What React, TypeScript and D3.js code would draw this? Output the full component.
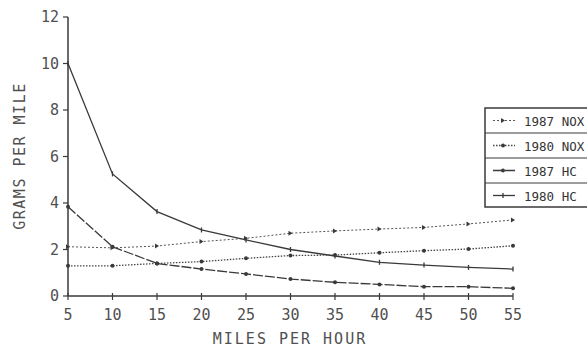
import React from "react";
import * as d3 from "d3";

const speeds = [5, 10, 15, 20, 25, 30, 35, 40, 45, 50, 55];
const hc1980 = [10.0, 5.25, 3.63, 2.84, 2.41, 2.0, 1.72, 1.45, 1.33, 1.23, 1.16];
const hc1987 = [3.84, 2.12, 1.4, 1.16, 0.95, 0.73, 0.59, 0.5, 0.4, 0.4, 0.33];
const nox1987 = [2.12, 2.07, 2.15, 2.34, 2.48, 2.7, 2.8, 2.88, 2.95, 3.1, 3.27];
const nox1980 = [1.3, 1.3, 1.4, 1.48, 1.62, 1.74, 1.76, 1.86, 1.95, 2.02, 2.16];
const yTicks = [0, 2, 4, 6, 8, 10, 12];
const xTicks = [5, 10, 15, 20, 25, 30, 35, 40, 45, 50, 55];
const seriesNames = ["1987 NOX", "1980 NOX", "1987 HC", "1980 HC"];

const W = 587, H = 351;
const x = d3.scaleLinear().domain([5, 55]).range([68, 513]);
const y = d3.scaleLinear().domain([0, 12]).range([296, 17]);

const ink = "#3a3a3a";
const textInk = "#505050";
const font = "'DejaVu Sans Mono', monospace";

type S = { name: string; values: number[]; dash: string; marker: "tri" | "dot" | "plus"; width: number; color: string };
const series: S[] = [
  { name: seriesNames[0], values: nox1987, dash: "2,2", marker: "tri", width: 1, color: "#555" },
  { name: seriesNames[1], values: nox1980, dash: "1.5,1.5", marker: "dot", width: 1.3, color: "#444" },
  { name: seriesNames[2], values: hc1987, dash: "10,2", marker: "dot", width: 1.3, color: ink },
  { name: seriesNames[3], values: hc1980, dash: "", marker: "plus", width: 1.3, color: ink },
];

function Marker({ cx, cy, kind }: { cx: number; cy: number; kind: string }) {
  if (kind === "plus") return <line x1={cx} x2={cx} y1={cy - 2.5} y2={cy + 2.5} stroke={ink} strokeWidth={1.3} />;
  if (kind === "tri") return <path d={`M${cx - 2},${cy - 2.5}L${cx + 2},${cy}L${cx - 2},${cy + 2.5}Z`} fill={ink} />;
  return <circle cx={cx} cy={cy} r={2} fill={ink} />;
}

export default function App() {
  const line = d3.line<number>().x((_, i) => x(speeds[i])).y((d) => y(d));
  const lx = 485, ly = 108, rowH = 25;
  return (
    <svg width={W} height={H} style={{ position: "absolute", left: 0, top: 0, background: "#fff" }}>
      {/* y axis */}
      <line x1={x(5)} x2={x(5)} y1={y(12)} y2={y(0)} stroke={ink} strokeWidth={1.5} />
      {yTicks.map((t) => (
        <g key={t}>
          <line x1={x(5) - 5} x2={x(5)} y1={y(t)} y2={y(t)} stroke={ink} strokeWidth={1.2} />
          <text x={x(5) - 9} y={y(t) + 5} textAnchor="end" fontFamily={font} fontSize={15} fill={textInk}>{t}</text>
        </g>
      ))}
      {/* x axis */}
      <line x1={x(5)} x2={x(55)} y1={y(0)} y2={y(0)} stroke={ink} strokeWidth={1.5} />
      {xTicks.map((t) => (
        <g key={t}>
          <line x1={x(t)} x2={x(t)} y1={y(0) - 3} y2={y(0) + 4} stroke={ink} strokeWidth={1.2} />
          <text x={x(t)} y={y(0) + 24} textAnchor="middle" fontFamily={font} fontSize={15} fill={textInk}>{t}</text>
        </g>
      ))}
      <text x={290} y={344} textAnchor="middle" fontFamily={font} fontSize={15} fill={textInk} letterSpacing={2}>MILES PER HOUR</text>
      <text transform={`translate(25,156) rotate(-90)`} textAnchor="middle" fontFamily={font} fontSize={15} fill={textInk} letterSpacing={1.5}>GRAMS PER MILE</text>
      {series.map((s) => (
        <g key={s.name}>
          <path d={line(s.values) || ""} fill="none" stroke={s.color} strokeWidth={s.width} strokeDasharray={s.dash} />
          {s.values.map((v, i) => (
            <Marker key={i} cx={x(speeds[i])} cy={y(v)} kind={s.marker} />
          ))}
        </g>
      ))}
      {/* legend */}
      <rect x={lx} y={ly} width={W - lx + 5} height={rowH * 4 - 1} fill="#fff" stroke={ink} strokeWidth={1.5} />
      {series.map((s, i) => {
        const cy = ly + i * rowH + rowH / 2;
        return (
          <g key={s.name}>
            {i > 0 && <line x1={lx} x2={W} y1={ly + i * rowH} y2={ly + i * rowH} stroke={ink} strokeWidth={1.2} />}
            <line x1={lx + 8} x2={lx + 30} y1={cy} y2={cy} stroke={s.color} strokeWidth={s.width} strokeDasharray={s.dash} />
            <Marker cx={lx + 18} cy={cy} kind={s.marker} />
            <text x={lx + 39} y={cy + 5} fontFamily={font} fontSize={12.5} fill="#333">{s.name}</text>
          </g>
        );
      })}
    </svg>
  );
}
